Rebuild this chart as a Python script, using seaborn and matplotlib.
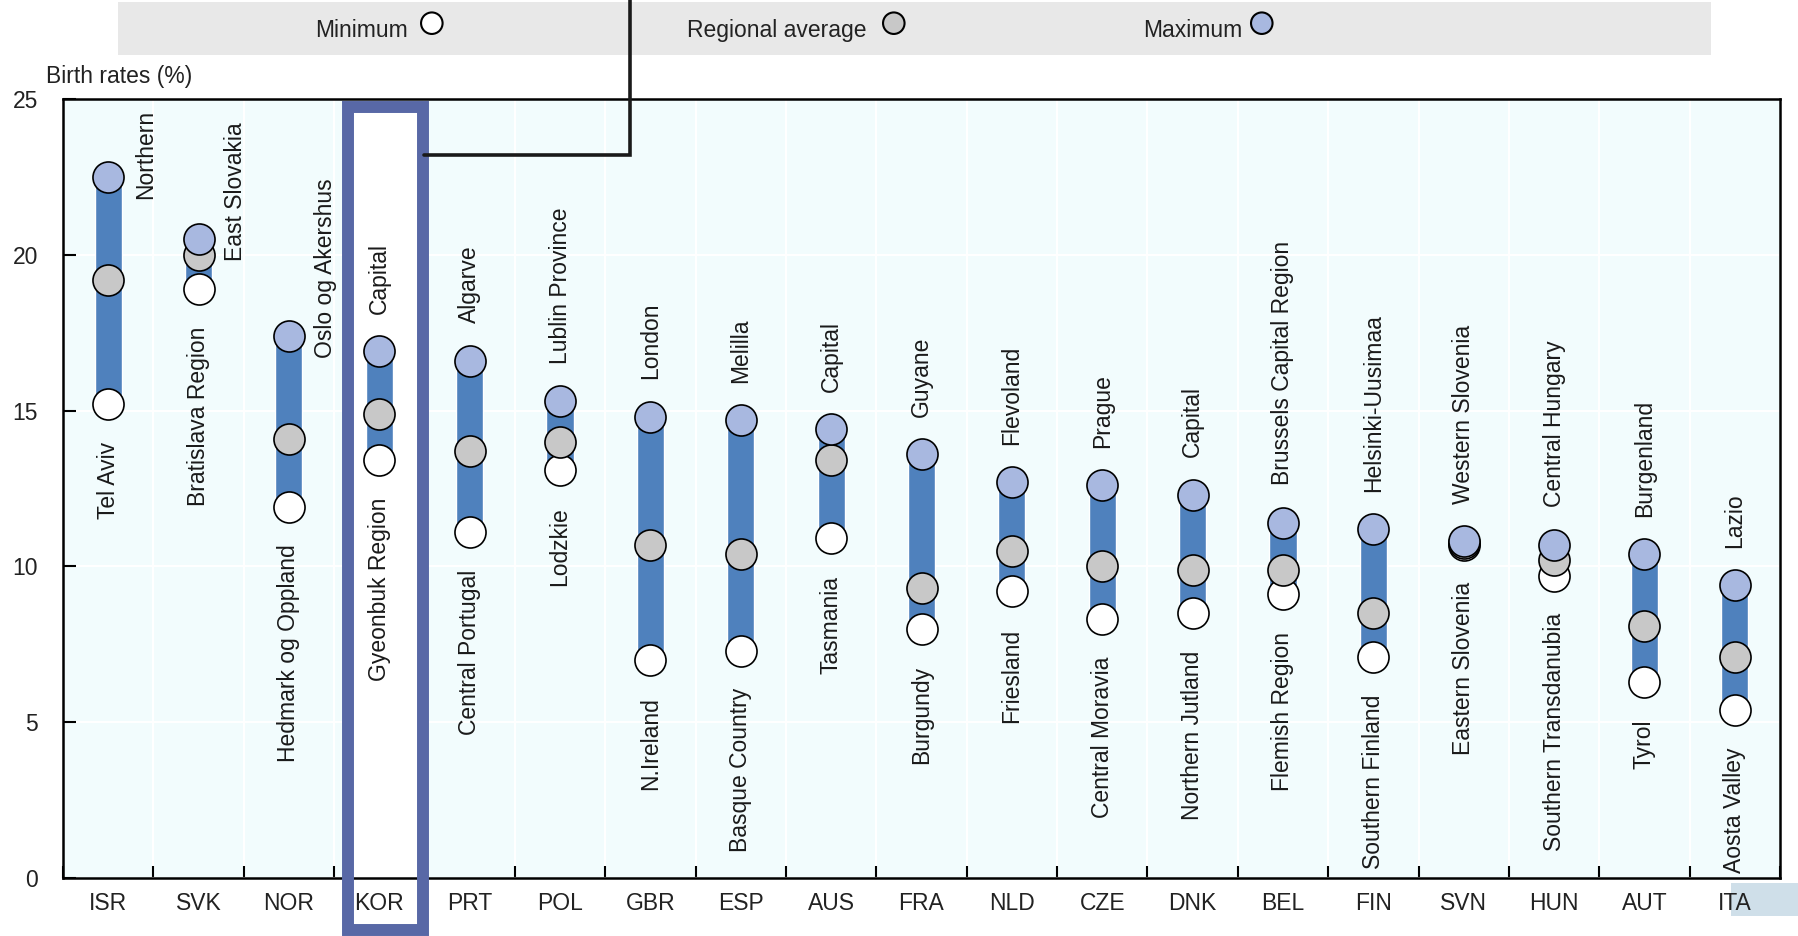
#Import libraries
import numpy as np
import pandas as pd
import seaborn as sns
import matplotlib.pyplot as plt
import matplotlib.font_manager as fm
from matplotlib.patches import Rectangle
from matplotlib.lines import Line2D

#Data

countries = ["ISR", "SVK", "NOR", "KOR", "PRT", "POL", "GBR", "ESP", "AUS", "FRA",
             "NLD", "CZE", "DNK", "BEL", "FIN", "SVN", "HUN", "AUT", "ITA"]
min_vals = [15.2, 18.9, 11.9, 13.4, 11.1, 13.1, 7.0, 7.3, 10.9, 8.0,
            9.2, 8.3, 8.5, 9.1, 7.1, 10.7, 9.7, 6.3, 5.4]
avg_vals = [19.2, 20.0, 14.1, 14.9, 13.7, 14.0, 10.7, 10.4, 13.4, 9.3,
            10.5, 10.0, 9.9, 9.9, 8.5, 10.75, 10.2, 8.1, 7.1]
max_vals = [22.5, 20.5, 17.4, 16.9, 16.6, 15.3, 14.8, 14.7, 14.4, 13.6,
            12.7, 12.6, 12.3, 11.4, 11.2, 10.8, 10.7, 10.4, 9.4]
min_regions = ["Tel Aviv", "Bratislava Region", "Hedmark og Oppland", "Gyeonbuk Region",
               "Central Portugal", "Lodzkie", "N.Ireland", "Basque Country", "Tasmania",
               "Burgundy", "Friesland", "Central Moravia", "Northern Jutland", "Flemish Region",
               "Southern Finland", "Eastern Slovenia", "Southern Transdanubia", "Tyrol",
               "Aosta Valley"]
max_regions = ["Northern", "East Slovakia", "Oslo og Akershus", "Capital", "Algarve",
               "Lublin Province", "London", "Melilla", "Capital", "Guyane", "Flevoland",
               "Prague", "Capital", "Brussels Capital Region", "Helsinki-Uusimaa",
               "Western Slovenia", "Central Hungary", "Burgenland", "Lazio"]
series_labels = ["Minimum", "Regional average", "Maximum"]
y_ticks = [0, 5, 10, 15, 20, 25]

# max labels that sit beside the bar instead of above it
side_labels = {"ISR", "SVK", "NOR"}
highlight = "KOR"

df = pd.DataFrame({"country": countries, "min": min_vals, "avg": avg_vals, "max": max_vals})
df["pos"] = np.arange(len(df))

#Style

sns.set_style("whitegrid", {"axes.facecolor": "#f2fcfd", "grid.color": "white"})
names = {f.name for f in fm.fontManager.ttflist}
narrow = "Liberation Sans Narrow" if "Liberation Sans Narrow" in names else "Liberation Sans"
tick_size = 19 if narrow == "Liberation Sans Narrow" else 16.5
plt.rcParams["font.family"] = ["Liberation Sans", "DejaVu Sans"]

bar_color = "#4f81bd"
colors = {"min": "white", "avg": "#c8c8c8", "max": "#a8b8e0"}
hl_color = "#5868a6"

W, H = 1798, 936
fig = plt.figure(figsize=(W / 100, H / 100), dpi=100)
ax = fig.add_axes([63 / W, 1 - 878 / H, (1780 - 63) / W, (878 - 99) / H])

# floating range bars
ax.bar(df["pos"], df["max"] - df["min"], bottom=df["min"], width=0.3,
       color=bar_color, zorder=2)

for i, col in enumerate(["min", "avg", "max"]):
    sns.scatterplot(data=df, x="pos", y=col, color=colors[col], s=500,
                    edgecolor="black", linewidth=1.2, zorder=3 + i, ax=ax, legend=False)

# region labels
for _, row in df.iterrows():
    i = row["pos"]
    ax.text(i, row["min"] - 1.2, min_regions[i], rotation=90, ha="center", va="top",
            fontsize=16.5, color="#1a1a1a", zorder=7)
    if row["country"] in side_labels:
        ax.text(i + 0.41, row["max"] - 0.7, max_regions[i], rotation=90, ha="center",
                va="bottom", fontsize=16.5, color="#1a1a1a", zorder=7)
    else:
        ax.text(i, row["max"] + 1.2, max_regions[i], rotation=90, ha="center",
                va="bottom", fontsize=16.5, color="#1a1a1a", zorder=7)

#Axes

ax.set_xlim(-0.5, len(df) - 0.5)
ax.set_ylim(0, 25)
ax.set_yticks(y_ticks)
ax.set_xticks(df["pos"])
ax.set_xticklabels(countries, fontfamily=narrow, fontsize=tick_size, color="#222222")
ax.set_yticklabels([str(t) for t in y_ticks], fontfamily=narrow, fontsize=tick_size,
                   color="#222222")
ax.set_xticks(np.arange(len(df) + 1) - 0.5, minor=True)
ax.set_xlabel("")
ax.set_ylabel("")
ax.grid(which="major", axis="x", visible=False)
ax.grid(which="minor", axis="x", color="white", linewidth=1.5)
ax.grid(which="major", axis="y", color="white", linewidth=1.5)
ax.tick_params(axis="x", which="major", length=0, pad=10)
ax.tick_params(axis="x", which="minor", bottom=True, direction="in", length=9, width=1.5,
               color="black")
ax.tick_params(axis="y", left=True, direction="in", length=9, width=1.5, color="black",
               pad=18)
for s in ax.spines.values():
    s.set_visible(True)
    s.set_color("black")
    s.set_linewidth(1.8)

fig.text(46 / W, 1 - 76 / H, "Birth rates (%)", ha="left", va="center",
         fontfamily=narrow, fontsize=tick_size, color="#222222")

# highlight box around KOR
box = (347.5 / W, 1 - 930 / H, (423 - 347.5) / W, (930 - 106.5) / H)
ax.add_patch(Rectangle(box[:2], box[2], box[3], transform=fig.transFigure,
                       facecolor="white", edgecolor="none", zorder=0.4, clip_on=False))
ax.add_patch(Rectangle(box[:2], box[2], box[3], transform=fig.transFigure,
                       facecolor="none", edgecolor=hl_color, linewidth=8.6,
                       joinstyle="miter", zorder=8, clip_on=False))

# small shaded patch behind the last tick label
fig.add_artist(Rectangle((1731 / W, 1 - 916 / H), (W - 1731) / W, 33 / H,
                         transform=fig.transFigure, facecolor="#cfdfe9",
                         edgecolor="none", zorder=-1))

#Legend band

lax = fig.add_axes([118 / W, 1 - 55 / H, (1711 - 118) / W, 53 / H])
lax.set_facecolor("#e8e8e8")
lax.set_xlim(0, 1)
lax.set_ylim(0, 1)
lax.grid(False)
lax.set_xticks([])
lax.set_yticks([])
for s in lax.spines.values():
    s.set_visible(False)
leg = pd.DataFrame({"label": series_labels, "text_x": [0.182, 0.470, 0.706],
                    "mark_x": [0.197, 0.487, 0.718],
                    "color": [colors["min"], colors["avg"], colors["max"]]})
for _, r in leg.iterrows():
    lax.text(r["text_x"], 0.47, r["label"], ha="right", va="center",
             fontfamily=narrow, fontsize=tick_size, color="#222222")
sns.scatterplot(data=leg, x="mark_x", y=[0.6] * 3, hue="label",
                palette=dict(zip(leg["label"], leg["color"])), s=240,
                edgecolor="black", linewidth=1.5, ax=lax, legend=False, clip_on=False)
lax.set_xlabel("")
lax.set_ylabel("")

# callout line from legend to the highlighted country
fig.add_artist(Line2D([630 / W, 630 / W, 424 / W], [1, 1 - 155 / H, 1 - 155 / H],
                      transform=fig.transFigure, color="#1a1a1a", linewidth=2.6,
                      solid_joinstyle="miter", zorder=9))

plt.savefig("out.png", dpi=100)
plt.close()
